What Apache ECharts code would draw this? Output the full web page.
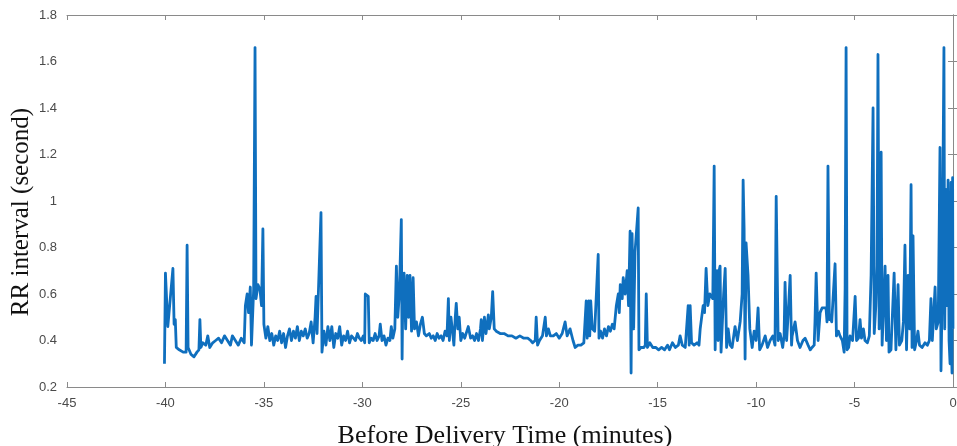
<!DOCTYPE html>
<html>
<head>
<meta charset="utf-8">
<script src="https://cdn.jsdelivr.net/npm/echarts@6/dist/echarts.min.js"></script>
<style>
html,body{margin:0;padding:0;background:#fff;}
#chart{width:957px;height:446px;}
</style>
</head>
<body>
<div id="chart"></div>
<script>
// Time before delivery (minutes)
const minutes = [
-40.05,-40.0,-39.88,-39.62,-39.56,-39.5,-39.45,-39.3,-39.1,-38.95,-38.9,-38.85,-38.7,-38.55,-38.4,-38.3,-38.25,-38.2,-38.1,-37.95,
-37.85,-37.75,-37.6,-37.45,-37.3,-37.15,-37.0,-36.85,-36.7,-36.6,-36.45,-36.3,-36.15,-36.0,-35.94,-35.85,-35.78,-35.69,-35.63,-35.52,
-35.45,-35.4,-35.3,-35.2,-35.12,-35.05,-35.0,
-34.9,-34.8,-34.7,-34.6,-34.5,-34.4,-34.3,-34.2,-34.1,-34.0,-33.9,-33.8,-33.7,-33.6,-33.5,-33.4,-33.3,-33.2,-33.1,-33.0,
-32.9,-32.8,-32.7,-32.6,-32.5,-32.4,-32.35,-32.3,-32.1,-32.05,-31.95,-31.85,-31.75,-31.65,-31.55,-31.45,-31.35,-31.25,-31.15,-31.05,
-30.95,-30.85,-30.75,-30.65,-30.55,-30.45,-30.35,-30.25,-30.15,-30.05,-29.95,-29.88,-29.85,-29.7,-29.65,-29.55,-29.45,-29.35,-29.25,-29.15,
-29.09,-29.0,-28.9,-28.8,-28.7,-28.6,-28.53,-28.45,-28.35,-28.27,-28.2,-28.12,-28.02,-27.98,-27.95,-27.88,-27.8,-27.72,-27.65,-27.58,
-27.5,-27.42,-27.35,-27.25,-27.15,-27.05,-26.95,-26.85,-26.75,-26.6,-26.5,-26.4,-26.3,-26.2,-26.1,
-26.0,-25.9,-25.8,-25.7,-25.63,-25.58,-25.5,-25.42,-25.35,-25.28,-25.23,-25.15,-25.08,-25.0,-24.9,-24.8,-24.62,-24.5,-24.4,-24.3,
-24.2,-24.1,-24.0,-23.96,-23.9,-23.8,-23.72,-23.6,-23.55,-23.45,-23.38,-23.3,-23.2,-23.0,-22.8,-22.6,-22.4,-22.2,-22.0,-21.8,
-21.6,-21.45,-21.35,-21.22,-21.17,-21.1,-21.0,-20.85,-20.71,-20.65,-20.55,-20.45,-20.3,-20.15,-20.0,-19.85,-19.7,-19.6,-19.45,-19.3,
-19.19,-19.05,-18.9,-18.75,-18.63,-18.58,-18.5,-18.45,-18.4,-18.32,-18.2,-18.02,-17.98,-17.9,-17.8,-17.7,-17.6,-17.5,-17.4,-17.3,
-17.21,-17.1,-17.0,-16.95,-16.9,-16.8,-16.75,-16.65,-16.55,-16.48,-16.4,-16.35,-16.3,-16.22,-16.15,-15.99,-15.95,-15.85,-15.7,-15.63,
-15.58,-15.52,-15.4,-15.25,-15.1,-14.95,-14.8,-14.65,-14.5,-14.4,-14.25,-14.1,-13.95,-13.86,-13.75,-13.6,-13.45,-13.4,-13.35,-13.28,
-13.15,-13.0,-12.9,-12.84,-12.69,-12.62,-12.54,-12.45,-12.35,-12.2,-12.13,-12.08,-12.03,-11.98,-11.93,-11.88,-11.83,-11.78,-11.73,-11.65,
-11.57,-11.5,-11.42,-11.32,-11.22,-11.07,-10.95,-10.81,-10.71,-10.66,-10.61,-10.56,-10.51,-10.41,-10.32,-10.2,-10.1,-10.0,-9.9,-9.82,
-9.7,-9.54,-9.42,-9.29,-9.15,-9.04,-8.98,-8.88,-8.78,-8.65,-8.58,-8.53,-8.45,-8.38,-8.27,-8.2,-8.17,-8.02,-7.9,-7.77,
-7.62,-7.51,-7.36,-7.25,-7.16,-7.05,-7.01,-6.95,-6.85,-6.75,-6.65,-6.45,-6.4,-6.35,-6.28,-6.24,-6.16,-6.09,-5.99,-5.92,
-5.82,-5.74,-5.62,-5.53,-5.48,-5.43,-5.38,-5.3,-5.23,-5.1,-4.97,-4.9,-4.8,-4.72,-4.65,-4.55,-4.47,-4.35,-4.25,-4.16,
-4.06,-4.0,-3.92,-3.86,-3.81,-3.75,-3.65,-3.6,-3.45,-3.38,-3.3,-3.25,-3.15,-2.99,-2.9,-2.79,-2.72,-2.6,-2.52,-2.44,
-2.36,-2.28,-2.2,-2.13,-2.08,-2.03,-1.95,-1.85,-1.78,-1.7,-1.57,-1.42,-1.3,-1.2,-1.12,-1.05,-0.91,-0.85,-0.75,-0.66,
-0.61,-0.55,-0.51,-0.46,-0.42,-0.36,-0.3,-0.25,-0.2,-0.15,-0.12,-0.1,-0.07,-0.05,-0.02,0.0
];
// RR interval (second)
const rrInterval = [
0.30,0.69,0.46,0.71,0.47,0.49,0.37,0.36,0.35,0.35,0.81,0.37,0.34,0.33,0.35,0.36,0.49,0.37,0.39,0.38,
0.42,0.37,0.39,0.40,0.41,0.39,0.42,0.40,0.38,0.42,0.40,0.38,0.41,0.39,0.55,0.60,0.52,0.63,0.38,0.62,
1.66,0.58,0.64,0.62,0.55,0.88,0.47,
0.41,0.46,0.40,0.43,0.38,0.42,0.40,0.44,0.39,0.43,0.37,0.42,0.45,0.40,0.44,0.41,0.46,0.40,0.44,0.42,
0.45,0.41,0.43,0.48,0.39,0.50,0.59,0.43,0.95,0.35,0.44,0.38,0.46,0.40,0.46,0.37,0.43,0.41,0.46,0.38,
0.42,0.40,0.44,0.39,0.42,0.41,0.40,0.43,0.41,0.40,0.42,0.39,0.60,0.59,0.39,0.41,0.40,0.43,0.40,0.42,
0.47,0.40,0.42,0.38,0.41,0.40,0.46,0.41,0.45,0.72,0.50,0.60,0.92,0.32,0.55,0.69,0.45,0.68,0.50,0.68,
0.44,0.67,0.45,0.48,0.42,0.47,0.50,0.43,0.42,0.43,0.41,0.42,0.40,0.43,0.41,
0.42,0.40,0.44,0.42,0.58,0.40,0.50,0.44,0.38,0.50,0.56,0.45,0.50,0.40,0.43,0.41,0.46,0.41,0.42,0.40,
0.43,0.40,0.45,0.49,0.40,0.50,0.43,0.51,0.45,0.50,0.61,0.45,0.44,0.43,0.43,0.42,0.42,0.41,0.42,0.41,
0.41,0.40,0.39,0.40,0.50,0.38,0.40,0.42,0.50,0.42,0.45,0.42,0.42,0.43,0.41,0.43,0.48,0.42,0.45,0.40,
0.37,0.38,0.38,0.39,0.57,0.41,0.57,0.42,0.57,0.45,0.44,0.77,0.41,0.44,0.41,0.45,0.42,0.46,0.44,0.47,
0.45,0.55,0.60,0.52,0.64,0.58,0.67,0.60,0.70,0.55,0.87,0.26,0.86,0.45,0.78,0.97,0.36,0.37,0.37,0.38,
0.60,0.37,0.39,0.37,0.37,0.36,0.37,0.36,0.38,0.36,0.39,0.37,0.38,0.42,0.38,0.37,0.55,0.38,0.55,0.39,
0.38,0.39,0.38,0.45,0.55,0.52,0.71,0.55,0.60,0.58,1.15,0.36,0.62,0.70,0.40,0.70,0.72,0.35,0.35,0.60,
0.71,0.37,0.45,0.38,0.37,0.46,0.40,0.48,0.60,1.09,0.88,0.32,0.82,0.68,0.45,0.37,0.44,0.40,0.54,0.36,
0.38,0.42,0.37,0.40,0.42,0.38,1.02,0.40,0.43,0.37,0.42,0.65,0.40,0.50,0.68,0.38,0.42,0.48,0.40,0.37,
0.40,0.41,0.38,0.36,0.37,0.38,0.48,0.69,0.40,0.52,0.54,0.54,0.48,1.15,0.49,0.50,0.48,0.48,0.73,0.42,
0.44,0.42,0.40,0.35,0.62,1.66,0.36,0.37,0.42,0.40,0.59,0.40,0.41,0.49,0.41,0.45,0.40,0.39,0.42,0.68,
1.40,0.43,0.55,0.72,1.63,0.45,1.21,0.38,0.72,0.40,0.68,0.35,0.36,0.69,0.36,0.64,0.38,0.40,0.48,0.81,
0.36,0.68,0.45,1.07,0.37,0.85,0.36,0.40,0.44,0.38,0.37,0.39,0.38,0.40,0.58,0.40,0.63,0.45,0.48,1.23,
0.27,0.60,1.10,1.66,0.45,1.05,0.55,1.09,0.40,0.30,0.85,1.08,0.35,0.26,1.10,0.45
];
const xTicks = [-45,-40,-35,-30,-25,-20,-15,-10,-5,0];
const yTicks = [0.2,0.4,0.6,0.8,1,1.2,1.4,1.6,1.8];

const seriesData = minutes.map((m, i) => [m, rrInterval[i]]);

const chart = echarts.init(document.getElementById('chart'), null, {renderer: 'canvas'});
const axisCol = '#8a8a8a';
const labelStyle = {color: '#4a4a4a', fontFamily: 'Liberation Sans, Arial, sans-serif', fontSize: 13};
chart.setOption({
  animation: false,
  backgroundColor: '#ffffff',
  grid: {left: 67, right: 4, top: 15, bottom: 59, containLabel: false, outerBoundsMode: 'none'},
  xAxis: [{
    type: 'value', min: -45, max: 0, interval: 5, position: 'bottom',
    name: 'Before Delivery Time (minutes)', nameLocation: 'middle', nameGap: 36, nameMoveOverlap: false,
    nameTextStyle: {fontFamily: 'Liberation Serif, Times New Roman, serif', fontSize: 26, color: '#111', padding: [0, 10, 0, 0]},
    axisLine: {show: true, lineStyle: {color: axisCol, width: 1}},
    axisTick: {show: true, inside: true, length: 5, lineStyle: {color: axisCol}},
    axisLabel: Object.assign({margin: 10}, labelStyle),
    splitLine: {show: false}
  }, {
    type: 'value', min: -45, max: 0, interval: 5, position: 'top',
    axisLine: {show: true, lineStyle: {color: axisCol, width: 1}},
    axisTick: {show: true, inside: true, length: 5, lineStyle: {color: axisCol}},
    axisLabel: {show: false}, splitLine: {show: false}
  }],
  yAxis: [{
    type: 'value', min: 0.2, max: 1.8, interval: 0.2, position: 'left',
    name: 'RR interval (second)', nameLocation: 'middle', nameGap: 33, nameMoveOverlap: false,
    nameTextStyle: {fontFamily: 'Liberation Serif, Times New Roman, serif', fontSize: 25, color: '#111', padding: [0, 0, 0, -22]},
    axisLine: {show: true, lineStyle: {color: axisCol, width: 1}},
    axisTick: {show: true, inside: true, length: 5, lineStyle: {color: axisCol}},
    axisLabel: Object.assign({margin: 10, formatter: v => String(+v.toFixed(1))}, labelStyle),
    splitLine: {show: false}
  }, {
    type: 'value', min: 0.2, max: 1.8, interval: 0.2, position: 'right',
    axisLine: {show: true, lineStyle: {color: axisCol, width: 1}},
    axisTick: {show: true, inside: true, length: 5, lineStyle: {color: axisCol}},
    axisLabel: {show: false}, splitLine: {show: false}
  }],
  series: [{
    type: 'line',
    data: seriesData,
    xAxisIndex: 0, yAxisIndex: 0,
    showSymbol: false,
    symbol: 'none',
    lineStyle: {color: '#0f6fbe', width: 2.8, join: 'round'},
    clip: true
  }]
});
</script>
</body>
</html>
